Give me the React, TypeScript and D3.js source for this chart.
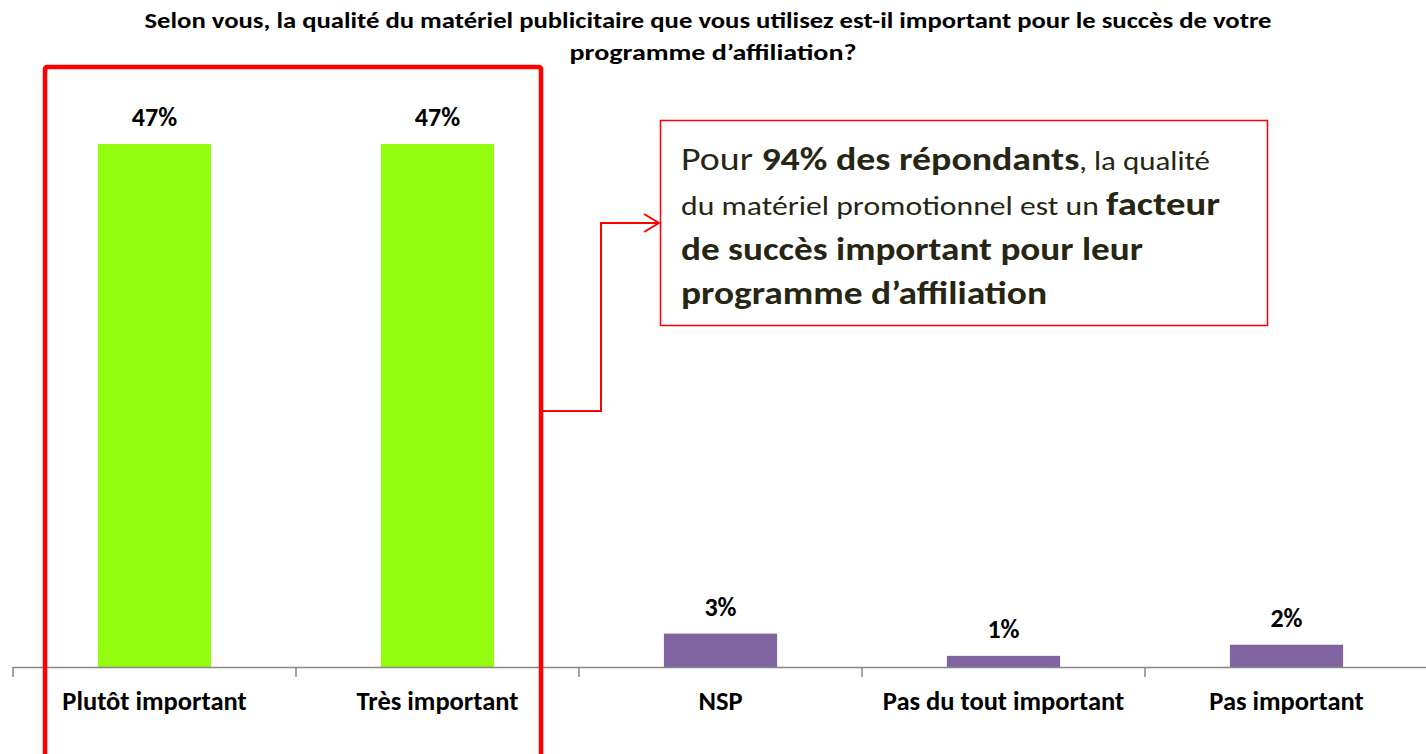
import React, { useEffect } from "react";
import * as d3 from "d3";

const categories = ["Plutôt important", "Très important", "NSP", "Pas du tout important", "Pas important"];
const values = [47, 47, 3, 1, 2];
const barColors = ["#94FC0E", "#94FC0E", "#8064A2", "#8064A2", "#8064A2"];
const titleLines = [
  "Selon vous, la qualité du matériel publicitaire que vous utilisez est-il important pour le succès de votre",
  "programme d’affiliation?",
];

const W = 1426;
const H = 754;
const FONT = "Carlito, Lato, 'Open Sans', sans-serif";

export default function App() {
  useEffect(() => {
    document.body.style.margin = "0";
  }, []);

  const x = d3.scaleBand<string>().domain(categories).range([13, 1428]).paddingInner(0.6).paddingOuter(0.3);
  const y = d3.scaleLinear().domain([0, 50]).range([667, 667 - 50 * 11.128]);
  const step = x.step();
  const tickXs = d3.range(categories.length + 1).map((i) => 13 + i * step);
  const textColor = "#262614";

  return (
    <svg width={W} height={H} style={{ display: "block", background: "#fff" }} fontFamily={FONT}>
      {/* title */}
      <text x={708} y={28} textAnchor="middle" fontWeight={700} fontSize={23} textLength={1127} lengthAdjust="spacingAndGlyphs">
        {titleLines[0]}
      </text>
      <text x={713} y={60} textAnchor="middle" fontWeight={700} fontSize={23} textLength={287} lengthAdjust="spacingAndGlyphs">
        {titleLines[1]}
      </text>

      {/* bars */}
      {categories.map((c, i) => (
        <g key={c}>
          <rect x={x(c)} y={y(values[i])} width={x.bandwidth()} height={y(0) - y(values[i])} fill={barColors[i]} />
          <text x={(x(c) as number) + x.bandwidth() / 2} y={y(values[i]) - 18} textAnchor="middle" fontWeight={700} fontSize={26} fill="#000">
            {values[i] + "%"}
          </text>
          <text x={(x(c) as number) + x.bandwidth() / 2} y={710} textAnchor="middle" fontWeight={700} fontSize={26.5} fill="#000">
            {c}
          </text>
        </g>
      ))}

      {/* axis */}
      <line x1={13} x2={1428} y1={y(0) + 0.5} y2={y(0) + 0.5} stroke="#868686" strokeWidth={1.5} />
      {tickXs.map((tx, i) => (
        <line key={i} x1={tx} x2={tx} y1={y(0)} y2={y(0) + 10} stroke="#868686" strokeWidth={1.5} />
      ))}

      {/* highlight box */}
      <rect x={45} y={67} width={496} height={720} fill="none" stroke="#FF0000" strokeWidth={4.5} rx={2} />

      {/* connector */}
      <polyline points="543,411 601,411 601,223 659,223" fill="none" stroke="#FF0000" strokeWidth={2} />
      <polyline points="644,214 659,223 644,232" fill="none" stroke="#FF0000" strokeWidth={2} />

      {/* callout */}
      <rect x={660.5} y={120.5} width={607} height={205} fill="#fff" stroke="#FF0000" strokeWidth={1.5} />
      <text x={681} y={170} fill={textColor} textLength={529} lengthAdjust="spacingAndGlyphs">
        <tspan fontSize={33}>Pour </tspan>
        <tspan fontSize={33} fontWeight={700}>94% des répondants</tspan>
        <tspan fontSize={27}>, la qualité</tspan>
      </text>
      <text x={681} y={215} fill={textColor} textLength={539} lengthAdjust="spacingAndGlyphs">
        <tspan fontSize={27}>du matériel promotionnel est un </tspan>
        <tspan fontSize={33} fontWeight={700}>facteur</tspan>
      </text>
      <text x={681} y={260} fill={textColor} fontSize={33} fontWeight={700} textLength={462} lengthAdjust="spacingAndGlyphs">
        de succès important pour leur
      </text>
      <text x={681} y={304} fill={textColor} fontSize={33} fontWeight={700} textLength={366} lengthAdjust="spacingAndGlyphs">
        programme d’affiliation
      </text>
    </svg>
  );
}
